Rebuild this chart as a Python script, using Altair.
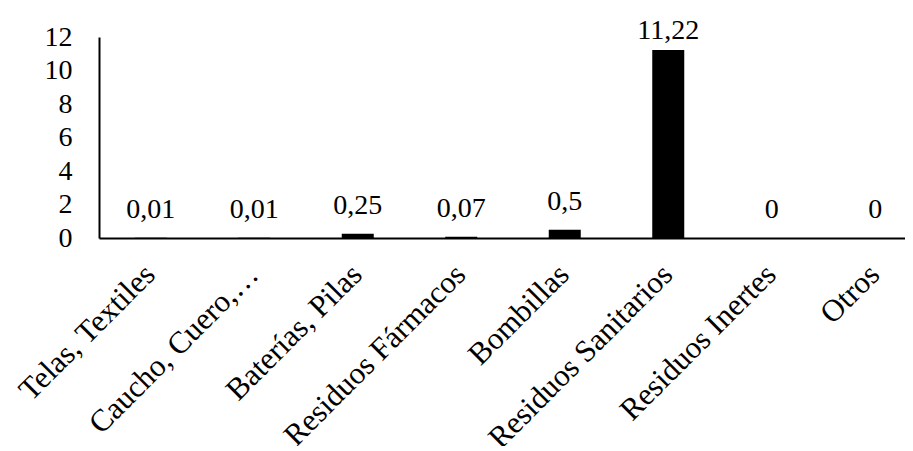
import altair as alt
import pandas as pd

categorias = ["Telas, Textiles", "Caucho, Cuero,…", "Baterías, Pilas", "Residuos Fármacos",
              "Bombillas", "Residuos Sanitarios", "Residuos Inertes", "Otros"]
valores = [0.01, 0.01, 0.25, 0.07, 0.5, 11.22, 0, 0]
etiquetas = ["0,01", "0,01", "0,25", "0,07", "0,5", "11,22", "0", "0"]

df = pd.DataFrame({"cat": categorias, "val": valores, "lab": etiquetas})

FONT = "Liberation Serif"

x_scale = alt.Scale(range=[0, 828], paddingInner=0, paddingOuter=0)
x_axis = alt.Axis(labelAngle=-45, labelFont=FONT, labelFontSize=31, labelColor="#000",
                  labelPadding=21, labelOffset=-11, ticks=False, domainColor="#000",
                  domainWidth=2, labelLimit=400, labelOverlap=False)
y_scale = alt.Scale(domain=[0, 12], nice=False)
y_axis = alt.Axis(values=[0, 2, 4, 6, 8, 10, 12], grid=False, ticks=False,
                  labelFont=FONT, labelFontSize=28, labelColor="#000",
                  labelOverlap=False, labelPadding=27,
                  domainColor="#000", domainWidth=2)

bars = alt.Chart(df).mark_bar(size=32, color="#000").encode(
    x=alt.X("cat:N", sort=categorias, title=None, scale=x_scale, axis=x_axis),
    y=alt.Y("val:Q", title=None, scale=y_scale, axis=y_axis),
)

text = alt.Chart(df).transform_calculate(
    ly="min(datum.val, 10.7)"
).mark_text(font=FONT, fontSize=28, color="#000", baseline="alphabetic", dy=-20).encode(
    x=alt.X("cat:N", sort=categorias, title=None, scale=x_scale, axis=x_axis),
    y=alt.Y("ly:Q", title=None, scale=y_scale, axis=y_axis),
    text="lab:N",
)

chart = (bars + text).properties(
    width=806, height=201,
    autosize=alt.AutoSizeParams(type="none"),
    padding={"left": 91, "top": 29, "right": 0, "bottom": 208},
).configure_view(stroke=None)

chart.save("out.html", embed_options={"renderer": "svg", "actions": False})
